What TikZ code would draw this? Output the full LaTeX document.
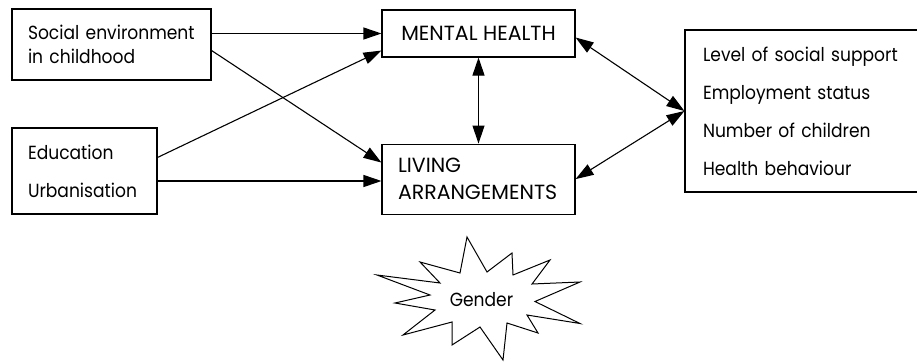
\documentclass[tikz,border=0pt]{standalone}
\usepackage{fontspec}
\setmainfont[FakeStretch=0.9]{Poppins}
\newfontfamily\capsfont{Poppins}
\usetikzlibrary{arrows.meta, positioning}
\tikzstyle{factor} = [rectangle, draw=black, line width=1.1pt, inner xsep=16pt, inner ysep=0pt, align=left, font=\fontsize{19}{24.5}\selectfont]
\tikzstyle{outcome} = [rectangle, draw=black, line width=1.1pt, inner ysep=0pt, align=center, font=\capsfont\fontsize{20.5}{27}\selectfont]
\tikzstyle{arrow} = [line width=1.1pt, -{Triangle[length=18pt,width=12pt]}]
\tikzstyle{twoway} = [line width=1.1pt, {Triangle[length=18pt,width=12pt]}-{Triangle[length=18pt,width=12pt]}]

\begin{document}
\begin{tikzpicture}[x=1pt, y=-1pt]
\useasboundingbox (0,0) rectangle (917,362);

\node (soc) [factor, minimum width=199pt, minimum height=71pt, text width=167pt] at (111.5,44.5) {Social environment\\in childhood};
\node (edu) [factor, minimum width=145pt, minimum height=86pt, text width=113pt, font=\fontsize{19}{38}\selectfont] at (84.5,171) {Education\\Urbanisation};

\node (mh) [outcome, minimum width=193pt, minimum height=47pt] at (478.5,33.5) {MENTAL HEALTH};
\node (la) [outcome, below=86pt of mh, minimum width=193pt, minimum height=70pt, align=left, text width=161pt, inner xsep=16pt] {LIVING\\ARRANGEMENTS};

\node (fac) [factor, minimum width=245pt, minimum height=162pt, text width=209pt, inner xsep=18pt, font=\fontsize{19}{38}\selectfont] at (807.5,111) {Level of social support\\Employment status\\Number of children\\Health behaviour};

% starburst
\draw [line width=1pt, line join=miter] (467,237) -- (487,272) -- (512,253) -- (513,275) -- (550,260) -- (532,284) -- (580,282) -- (535,301.5) -- (580,323.5) -- (527,315) -- (538,333) -- (507,323) -- (503,360) -- (480,327) -- (452,345) -- (452,322) -- (403,335) -- (435,310) -- (395,303) -- (430,295) -- (377,275) -- (440,283) -- (420,262) -- (460,273) -- cycle;
\node (gender) [font=\fontsize{19}{19}\selectfont] at (481.5,300) {Gender};

\coordinate (urb) at ([yshift=-10pt]edu.east);

\draw [arrow] (soc.east |- mh.west) -- (mh.west);
\draw [arrow] ([yshift=-6pt]soc.east) -- ([yshift=-19pt]la.north west);
\draw [arrow] ([yshift=-30pt]edu.north east) -- ([yshift=7pt]mh.south west);
\draw [arrow] (urb) -- (urb -| la.west);

\draw [twoway] (mh.south) -- (la.north);
\draw [twoway] ([yshift=-4pt]mh.east) -- (fac.west);
\draw [twoway] (la.east) -- (fac.west);
\end{tikzpicture}
\end{document}
